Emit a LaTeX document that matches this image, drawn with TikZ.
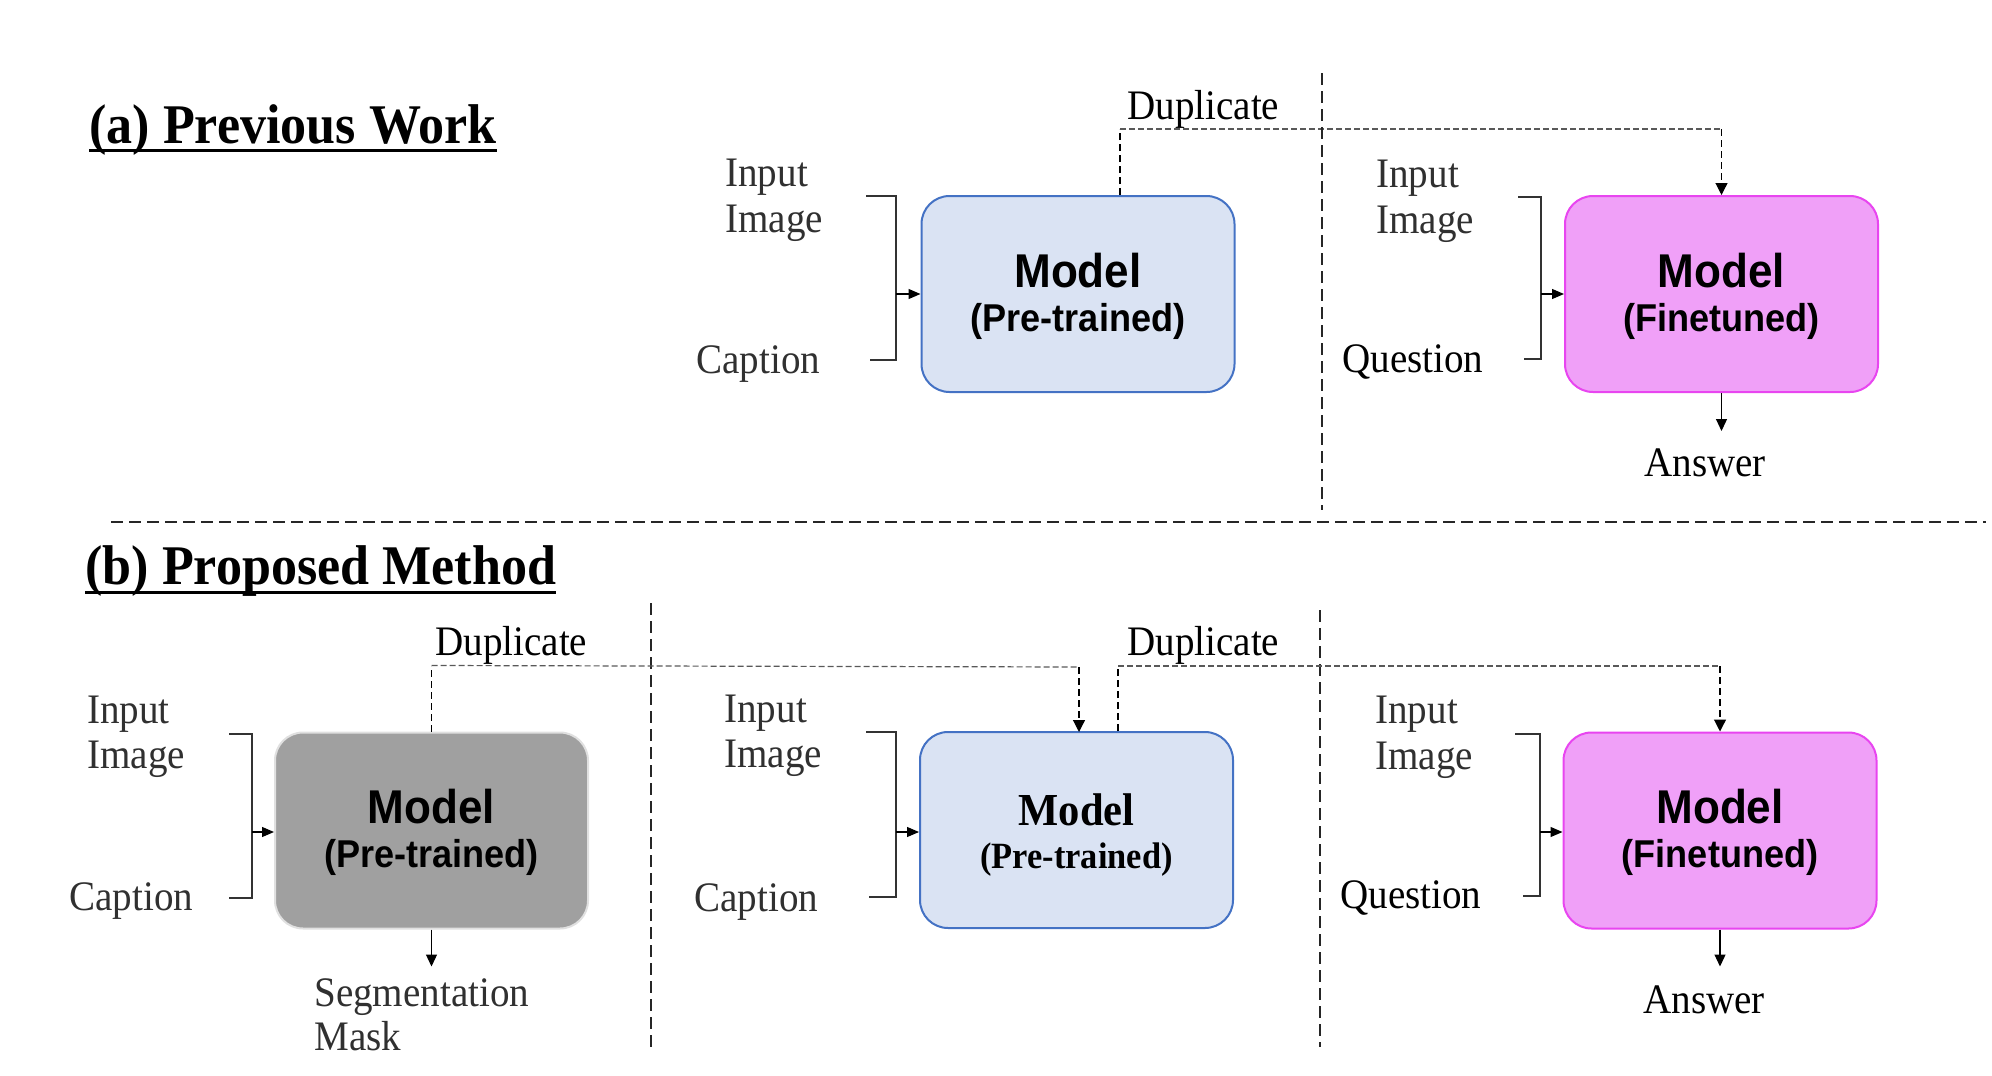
\documentclass[tikz,border=0pt]{standalone}
\usepackage{fontspec}
\setmainfont[FakeStretch=0.93]{Liberation Serif}
\newfontfamily\arialf[FakeStretch=0.93]{Liberation Sans}
\usetikzlibrary{calc,arrows.meta}
\definecolor{bluefill}{HTML}{DAE3F3}
\definecolor{blueedge}{HTML}{4472C4}
\definecolor{pinkfill}{HTML}{F0A0F8}
\definecolor{pinkedge}{HTML}{E845F0}
\definecolor{grayfill}{HTML}{A0A0A0}
\definecolor{grayedge}{HTML}{E0E0E0}
\definecolor{txtgray}{HTML}{303030}
\tikzset{
  lbl/.style={anchor=base west, inner sep=0pt, font=\fontsize{21}{24}\selectfont},
  glbl/.style={lbl, text=txtgray},
  ttl/.style={anchor=base west, inner sep=0pt, font=\bfseries\fontsize{28}{31}\selectfont},
  modelbox/.style={rounded corners=14pt, line width=1pt, minimum width=156.5pt, minimum height=98pt, inner sep=0pt},
  bluebox/.style={modelbox, draw=blueedge, fill=bluefill},
  pinkbox/.style={modelbox, draw=pinkedge, fill=pinkfill},
  graybox/.style={modelbox, draw=grayedge, fill=grayfill},
  mA/.style={anchor=base, inner sep=0pt, font=\arialf\bfseries\fontsize{23.7}{26}\selectfont},
  mB/.style={anchor=base, inner sep=0pt, font=\arialf\bfseries\fontsize{19.4}{22}\selectfont},
  tA/.style={anchor=base, inner sep=0pt, font=\bfseries\fontsize{22.9}{26}\selectfont},
  tB/.style={anchor=base, inner sep=0pt, font=\bfseries\fontsize{18.5}{21}\selectfont},
  brk/.style={draw=black!80, line width=0.6pt},
  inarrow/.style={draw=black, line width=0.6pt, -{Triangle[length=6pt,width=5pt]}},
  outarrow/.style={draw=black, line width=0.6pt, -{Triangle[length=6pt,width=5.5pt]}},
  duph/.style={draw=black!65, line width=0.6pt, dash pattern=on 3pt off 1.5pt},
  dupv/.style={draw=black, line width=0.6pt, dash pattern=on 3.5pt off 2pt},
  dupvarrow/.style={dupv, -{Triangle[length=6pt,width=6pt]}},
  sep/.style={draw=black!85, line width=0.6pt, dash pattern=on 6pt off 3pt},
}
\begin{document}
\begin{tikzpicture}[x=0.5pt, y=-0.5pt]
\useasboundingbox (0,0) rectangle (1992,1076);

% ---------------- (a) Previous Work ----------------
\node[ttl] (ta) at (89,143) {(a) Previous Work};
\draw[line width=1.5pt] ($(ta.base west)+(0,7)$) -- ($(ta.base east)+(0,7)$);

\node[bluebox] (b1) at (1078,294) {};
\node[mA] (b1m) at ($(b1.center)+(0,-7)$) {Model};
\node[mB] (b1p) at ($(b1.center)+(0,37)$) {(Pre-trained)};

\node[glbl] (a1in) at (725,186) {Input};
\node[glbl] (a1im) at (725,232) {Image};
\node[glbl] (a1cap) at (696,373) {Caption};
\coordinate (a1t) at (866,196);
\coordinate (a1b) at (870,360);
\draw[brk] (a1t) -- (896,196) -- (896,360) -- (a1b);
\coordinate (a1j) at (896,294);
\draw[inarrow] (a1j) -- (b1.west);

\node[lbl] (adup) at (1127,119) {Duplicate};
\coordinate (ad1) at ($(b1.north)+(42,0)$);
\coordinate (ad2) at ($(b1.north)+(42,-66)$);
\node[pinkbox] (b2) at (1721.5,294) {};
\coordinate (ad3) at ($(b2.north)+(0,-66)$);
\draw[dupv] (ad1) -- (ad2);
\draw[duph] (ad2) -- (ad3);
\draw[dupvarrow] (ad3) -- (b2.north);

\node[mA] (b2m) at ($(b2.center)+(0,-7)$) {Model};
\node[mB] (b2p) at ($(b2.center)+(0,37)$) {(Finetuned)};

\node[glbl] (a2in) at (1376,187) {Input};
\node[glbl] (a2im) at (1376,233) {Image};
\node[lbl] (a2q) at (1342,372) {Question};
\coordinate (a2t) at (1518,197);
\coordinate (a2b) at (1524,359);
\draw[brk] (a2t) -- (1541,197) -- (1541,359) -- (a2b);
\coordinate (a2j) at (1541,294);
\draw[inarrow] (a2j) -- (b2.west);

\coordinate (aans) at ($(b2.south)+(0,38)$);
\draw[outarrow] (b2.south) -- (aans);
\node[lbl] (aanst) at (1644,476) {Answer};

\coordinate (s1t) at (1322,73);
\coordinate (s1b) at (1322,510);
\draw[sep] (s1t) -- (s1b);

% horizontal separator
\coordinate (hl) at (111,522);
\coordinate (hr) at (1986,522);
\draw[sep] (hl) -- (hr);

% ---------------- (b) Proposed Method ----------------
\node[ttl] (tb) at (85,584) {(b) Proposed Method};
\draw[line width=1.5pt] ($(tb.base west)+(0,8)$) -- ($(tb.base east)+(0,8)$);

\coordinate (s2t) at (651,603);
\coordinate (s2b) at (651,1048);
\draw[sep] (s2t) -- (s2b);
\coordinate (s3t) at (1320,610);
\coordinate (s3b) at (1320,1047);
\draw[sep] (s3t) -- (s3b);

% gray model
\node[graybox] (g) at (431.5,830.5) {};
\node[mA] (gm) at ($(g.center)+(0,-7.5)$) {Model};
\node[mB] (gp) at ($(g.center)+(0,36.5)$) {(Pre-trained)};
\node[glbl] (g1in) at (87,723) {Input};
\node[glbl] (g1im) at (87,768) {Image};
\node[glbl] (g1cap) at (69,910) {Caption};
\coordinate (gbt) at (229,734);
\coordinate (gbb) at (229,898);
\draw[brk] (gbt) -- (252,734) -- (252,898) -- (gbb);
\coordinate (gj) at (252,832);
\draw[inarrow] (gj) -- (g.west |- gj);
\coordinate (gout) at ($(g.south)+(0,37)$);
\draw[outarrow] (g.south) -- (gout);
\node[glbl] (gseg) at (314,1006) {Segmentation};
\node[glbl] (gmask) at (314,1050) {Mask};

% middle model
\node[bluebox] (m) at (1076.5,830) {};
\node[tA] (mm) at ($(m.center)+(0,-5)$) {Model};
\node[tB] (mp) at ($(m.center)+(0,38)$) {(Pre-trained)};
\node[glbl] (m1in) at (724,722) {Input};
\node[glbl] (m1im) at (724,767) {Image};
\node[glbl] (m1cap) at (694,911) {Caption};
\coordinate (mbt) at (866,732);
\coordinate (mbb) at (869,897);
\draw[brk] (mbt) -- (896,732) -- (896,897) -- (mbb);
\coordinate (mj) at (896,832);
\draw[inarrow] (mj) -- (m.west |- mj);

% right model
\node[pinkbox] (f) at (1720,830.5) {};
\node[mA] (fm) at ($(f.center)+(0,-7.5)$) {Model};
\node[mB] (fp) at ($(f.center)+(0,36.5)$) {(Finetuned)};
\node[glbl] (f1in) at (1375,723) {Input};
\node[glbl] (f1im) at (1375,769) {Image};
\node[lbl] (f1q) at (1340,908) {Question};
\coordinate (fbt) at (1515,734);
\coordinate (fbb) at (1523,896);
\draw[brk] (fbt) -- (1540,734) -- (1540,896) -- (fbb);
\coordinate (fj) at (1540,832);
\draw[inarrow] (fj) -- (f.west |- fj);
\coordinate (fout) at ($(f.south)+(0,37)$);
\draw[outarrow] (f.south) -- (fout);
\node[lbl] (fans) at (1643,1013) {Answer};

% duplicate connectors (b)
\node[lbl] (bdup1) at (435,655) {Duplicate};
\coordinate (bd1) at (g.north);
\coordinate (bd2) at ($(g.north)+(0,-66)$);
\coordinate (bd3) at (1079,667);
\coordinate (bd4) at (1079,732);
\draw[dupv] (bd1) -- (bd2);
\draw[duph] (bd2) -- (bd3);
\draw[dupvarrow] (bd3) -- (bd4);

\node[lbl] (bdup2) at (1127,655) {Duplicate};
\coordinate (be1) at ($(m.north)+(41.5,0)$);
\coordinate (be2) at ($(m.north)+(41.5,-65)$);
\coordinate (be3) at ($(f.north)+(0,-65.5)$);
\draw[dupv] (be1) -- (be2);
\draw[duph] (be2) -- (be3);
\draw[dupvarrow] (be3) -- (f.north);
\end{tikzpicture}
\end{document}
